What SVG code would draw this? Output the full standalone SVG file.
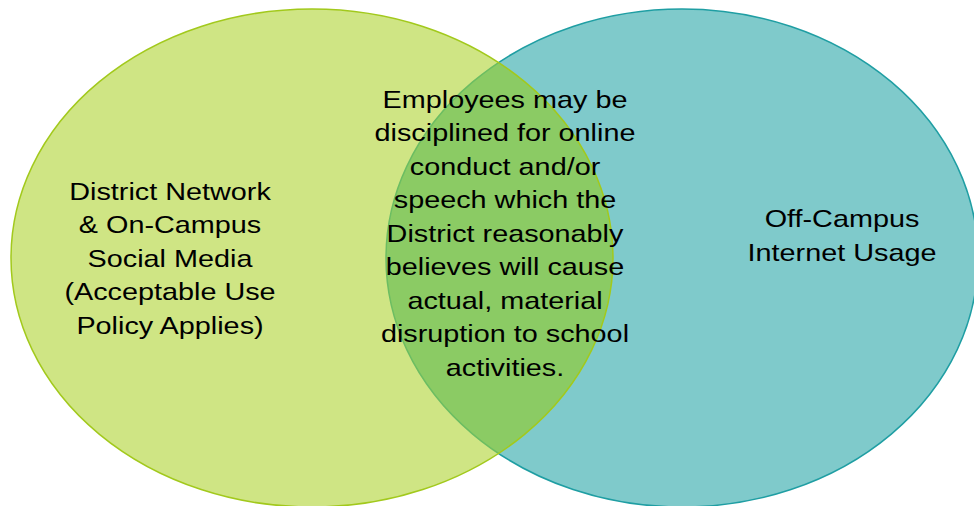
<svg xmlns="http://www.w3.org/2000/svg" width="974" height="506" viewBox="0 0 974 506">
  <style>
    .lbl { font-family: "Liberation Sans", Arial, sans-serif; font-size: 24px; fill: #000; text-anchor: middle; }
  </style>
  <defs>
    <clipPath id="clipTeal"><ellipse cx="682" cy="258" rx="296" ry="249"/></clipPath>
    <clipPath id="clipGreen"><ellipse cx="312" cy="258" rx="301" ry="249"/></clipPath>
  </defs>
  <rect width="974" height="506" fill="#ffffff"/>
  <g id="off-campus">
    <ellipse cx="682" cy="258" rx="296" ry="249" fill="#7fcacb" stroke="#1f9ea3" stroke-width="1.5"/>
    <g transform="translate(842,0) scale(1.2,1)">
      <text class="lbl" x="0" y="227">Off-Campus</text>
      <text class="lbl" x="0" y="261">Internet Usage</text>
    </g>
  </g>
  <g id="district-network">
    <ellipse cx="312" cy="258" rx="301" ry="249" fill="#cfe584"/>
    <ellipse cx="312" cy="258" rx="301" ry="249" fill="#8bcb64" clip-path="url(#clipTeal)"/>
    <ellipse cx="682" cy="258" rx="296" ry="249" fill="none" stroke="#6cbd62" stroke-width="1.5" clip-path="url(#clipGreen)"/>
    <ellipse cx="312" cy="258" rx="301" ry="249" fill="none" stroke="#a2c91c" stroke-width="1.5"/>
    <g transform="translate(170,0) scale(1.2,1)">
      <text class="lbl" x="0" y="200">District Network</text>
      <text class="lbl" x="0" y="233.5">&amp; On-Campus</text>
      <text class="lbl" x="0" y="267">Social Media</text>
      <text class="lbl" x="0" y="300.5">(Acceptable Use</text>
      <text class="lbl" x="0" y="334">Policy Applies)</text>
    </g>
  </g>
  <g id="overlap">
    <g transform="translate(505,0) scale(1.2,1)">
      <text class="lbl" x="0" y="108">Employees may be</text>
      <text class="lbl" x="0" y="141.5">disciplined for online</text>
      <text class="lbl" x="0" y="175">conduct and/or</text>
      <text class="lbl" x="0" y="208.5">speech which the</text>
      <text class="lbl" x="0" y="242">District reasonably</text>
      <text class="lbl" x="0" y="275.5">believes will cause</text>
      <text class="lbl" x="0" y="309">actual, material</text>
      <text class="lbl" x="0" y="342.5">disruption to school</text>
      <text class="lbl" x="0" y="376">activities.</text>
    </g>
  </g>
  <g id="connectors"></g>
</svg>
